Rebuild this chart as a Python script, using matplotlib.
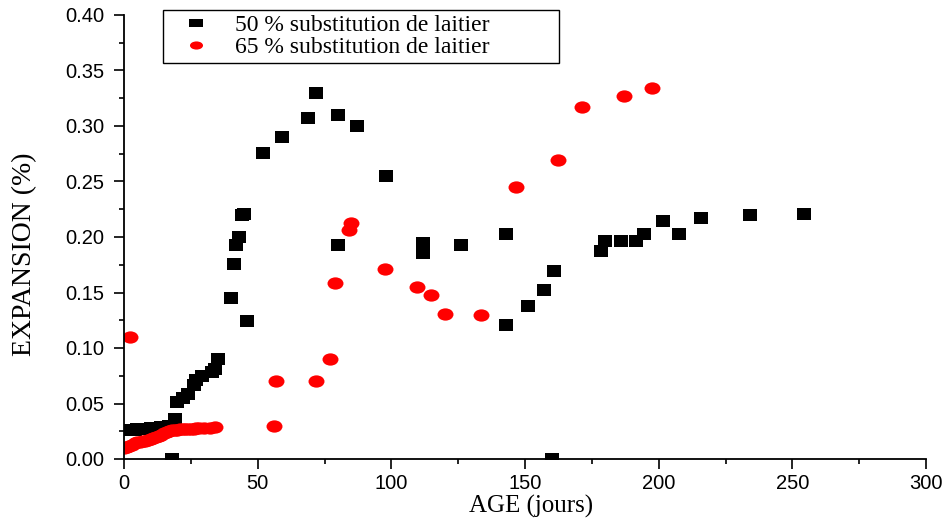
import matplotlib
matplotlib.use("Agg")
import matplotlib.pyplot as plt
import numpy as np
from matplotlib.path import Path
from matplotlib.lines import Line2D
from matplotlib.ticker import MultipleLocator, FormatStrFormatter

# ---- data: expansion (%) versus age (days) ----
days_50 = [0, 1, 2, 3, 4, 5, 6, 7, 8, 9, 10, 11, 12, 13, 14, 15, 16, 17, 18, 19,
           20, 22, 24, 26, 27, 29, 33, 34, 35, 40, 41, 42, 43, 44, 45, 46, 52, 59,
           69, 72, 80, 80, 87, 98, 112, 112, 126, 143, 143, 151, 157, 160, 161,
           178.5, 180, 186, 191.5, 194.5, 201.5, 207.5, 216, 234, 254.5]
exp_50 = [0.026, 0.026, 0.026, 0.026, 0.026, 0.027, 0.027, 0.027, 0.027, 0.027,
          0.028, 0.028, 0.028, 0.028, 0.029, 0.029, 0.029, 0.030, 0.000, 0.036,
          0.051, 0.055, 0.059, 0.067, 0.071, 0.075, 0.078, 0.081, 0.090, 0.145,
          0.176, 0.193, 0.200, 0.220, 0.221, 0.124, 0.276, 0.290, 0.307, 0.330,
          0.310, 0.193, 0.300, 0.255, 0.195, 0.186, 0.193, 0.203, 0.121, 0.138,
          0.152, 0.000, 0.169, 0.187, 0.196, 0.196, 0.196, 0.203, 0.214, 0.203,
          0.217, 0.220, 0.221]

days_65 = [0, 1, 2, 2.2, 3, 4, 5, 6, 7, 8, 9, 10, 11, 12, 13, 14, 15, 16, 17, 18,
           19, 20, 21, 22, 23, 24, 25, 26, 27, 28, 30, 32, 34, 56, 57, 72, 77, 79,
           84, 85, 97.5, 109.5, 115, 120, 133.5, 146.5, 162.5, 171.5, 187, 197.5]
exp_65 = [0.010, 0.011, 0.012, 0.110, 0.013, 0.014, 0.015, 0.015, 0.016, 0.016,
          0.017, 0.018, 0.019, 0.020, 0.021, 0.022, 0.023, 0.024, 0.025, 0.026,
          0.026, 0.026, 0.027, 0.027, 0.027, 0.027, 0.027, 0.027, 0.028, 0.028,
          0.028, 0.028, 0.029, 0.030, 0.070, 0.070, 0.090, 0.159, 0.206, 0.213,
          0.171, 0.155, 0.148, 0.131, 0.130, 0.245, 0.269, 0.317, 0.327, 0.334]

labels = ["50 % substitution de laitier", "65 % substitution de laitier"]
colors = ["black", "#ff0000"]

# ---- marker shapes (slightly wider than tall) ----
def rect_marker(aspect):
    h = 1.0 / aspect
    verts = [(-1, -h), (1, -h), (1, h), (-1, h), (-1, -h)]
    codes = [Path.MOVETO, Path.LINETO, Path.LINETO, Path.LINETO, Path.CLOSEPOLY]
    return Path(verts, codes)

def ellipse_marker(aspect):
    c = Path.unit_circle()
    v = c.vertices.copy()
    v[:, 1] /= aspect
    return Path(v, c.codes)

sq = rect_marker(1.3)
el = ellipse_marker(1.3)

fig = plt.figure(figsize=(9.49, 5.19), dpi=100)
ax = fig.add_axes([124 / 949, 1 - 459 / 519, 802 / 949, 444 / 519])

ax.plot(days_50, exp_50, ls="none", marker=sq, ms=10.3, mew=0, color=colors[0])
ax.plot(days_65, exp_65, ls="none", marker=el, ms=11.5, mew=0, color=colors[1])

ax.set_xlim(0, 300)
ax.set_ylim(0, 0.40)
ax.xaxis.set_major_locator(MultipleLocator(50))
ax.xaxis.set_minor_locator(MultipleLocator(25))
ax.yaxis.set_major_locator(MultipleLocator(0.05))
ax.yaxis.set_minor_locator(MultipleLocator(0.025))
ax.yaxis.set_major_formatter(FormatStrFormatter("%.2f"))

for s in ["top", "right"]:
    ax.spines[s].set_visible(False)
for s in ["left", "bottom"]:
    ax.spines[s].set_linewidth(1.3)

ax.tick_params(which="major", direction="out", length=7, width=1.2, pad=4)
ax.tick_params(which="minor", direction="out", length=3.5, width=1.2)
for t in ax.get_xticklabels() + ax.get_yticklabels():
    t.set_fontfamily("Liberation Sans")
    t.set_fontsize(14.5)
ax.tick_params(axis="y", pad=7)

ax.set_xlabel("AGE (jours)", fontfamily="Liberation Serif", fontsize=18)
ax.set_ylabel("EXPANSION (%)", fontfamily="Liberation Serif", fontsize=20)
ax.xaxis.set_label_coords(0.5075, -0.08)
ax.yaxis.set_label_coords(-0.108, 0.462)

handles = [
    Line2D([], [], ls="none", marker=rect_marker(1.8), ms=9.4, mew=0, color=colors[0]),
    Line2D([], [], ls="none", marker=ellipse_marker(1.6), ms=9.4, mew=0, color=colors[1]),
]
leg = ax.legend(handles, labels, loc="upper left", mode="expand",
                bbox_to_anchor=(163 / 949, 1 - 64 / 519, 396 / 949, 54 / 519),
                bbox_transform=fig.transFigure, borderaxespad=0,
                prop={"family": "Liberation Serif", "size": 17},
                fancybox=False, framealpha=1, edgecolor="black",
                borderpad=0.2, labelspacing=0.0, handlelength=2.4,
                handletextpad=0.45)
leg.get_frame().set_linewidth(1.0)
leg.set_clip_on(False)

fig.savefig("out.png", dpi=100)
